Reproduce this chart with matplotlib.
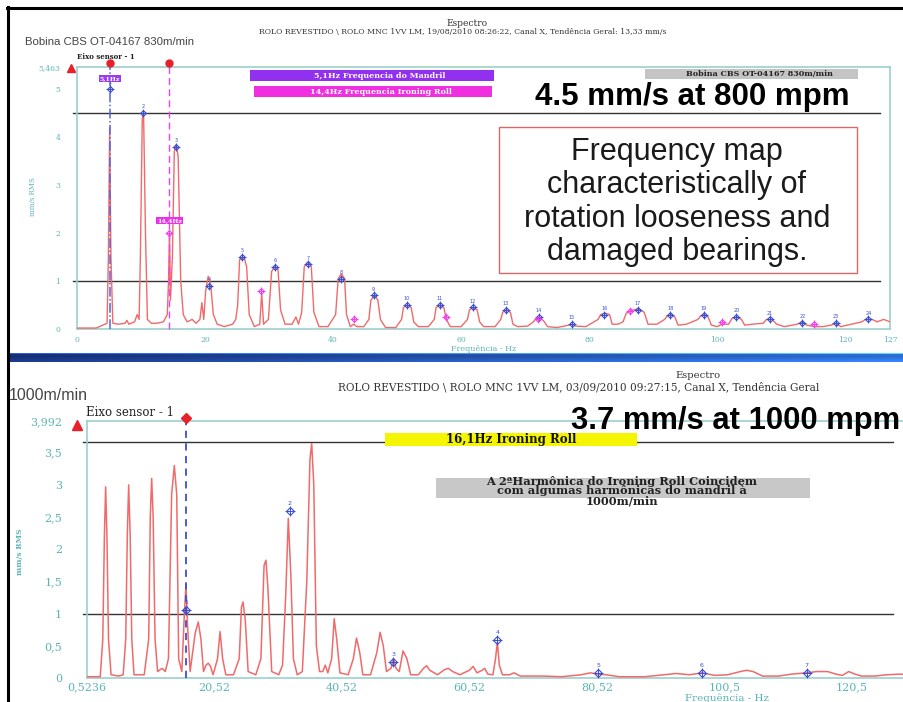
import matplotlib
matplotlib.use("Agg")
import matplotlib.pyplot as plt
import numpy as np
from matplotlib.lines import Line2D
from matplotlib.patches import Rectangle

# ---------------- data ----------------
# upper spectrum: 830 m/min
top_freq = [0, 3, 4, 4.7, 4.9, 5.1, 5.3, 5.6, 6.5, 7.5, 7.8, 8.1, 9.0, 9.4, 9.7, 9.9, 10.2, 10.4, 10.7, 11.0,
            11.6, 12.5, 13.5, 14.1, 14.3, 14.45, 14.6, 14.9, 15.2, 15.5, 15.8, 16.2, 16.6, 17.2, 18.0, 18.6,
            19.2, 19.5, 19.8, 20.1, 20.5, 20.9, 21.3, 21.9, 23.0, 24.3, 24.8, 25.1, 25.4, 26.1, 26.5, 26.9,
            27.7, 28.55, 28.85, 29.15, 29.9, 30.4, 30.9, 31.4, 31.8, 32.5, 33.6, 34.2, 34.6, 35.1, 35.5, 36.1,
            36.6, 37.0, 37.8, 39.2, 40.4, 40.8, 41.3, 41.8, 42.1, 42.7, 43.2, 43.7, 44.8, 45.6, 45.9, 46.5,
            47.0, 47.4, 48.2, 49.8, 50.7, 51.0, 51.6, 52.2, 52.6, 53.3, 54.9, 55.8, 56.1, 56.7, 57.3, 57.7,
            58.3, 60.0, 61.0, 61.3, 61.9, 62.5, 62.9, 63.5, 65.3, 66.2, 66.5, 67.1, 67.7, 68.1, 68.8, 70.4,
            71.3, 71.7, 72.5, 73.0, 73.5, 75.0, 76.8, 77.3, 77.9, 79.5, 81.4, 81.8, 82.5, 83.2, 83.6, 84.5,
            85.3, 85.8, 86.5, 87.6, 88.6, 89.2, 90.6, 91.8, 92.2, 92.8, 93.4, 93.9, 95.2, 97.0, 97.4, 98.0,
            98.6, 99.1, 100.0, 100.8, 101.8, 102.3, 103.1, 103.8, 104.3, 105.5, 107.2, 107.7, 108.6, 109.3,
            110.5, 112.5, 113.3, 114.0, 115.2, 116.5, 117.8, 118.5, 119.3, 121.0, 122.6, 123.2, 124.2,
            125.0, 126.0, 127.0]
top_amp = [0.02, 0.02, 0.08, 0.12, 1.5, 4.2, 1.5, 0.12, 0.1, 0.12, 0.18, 0.1, 0.15, 0.3, 0.2, 1.5, 4.4, 4.5, 2.0, 0.2,
           0.12, 0.12, 0.15, 0.3, 1.0, 2.0, 0.6, 1.5, 3.7, 3.85, 3.6, 1.0, 0.3, 0.15, 0.2, 0.12,
           0.2, 0.55, 0.2, 0.8, 1.1, 0.9, 0.3, 0.1, 0.05, 0.1, 0.2, 0.5, 1.45, 1.5, 1.3, 0.3,
           0.05, 0.1, 0.75, 0.1, 0.2, 1.2, 1.3, 1.25, 0.4, 0.1, 0.1, 0.25, 0.1, 0.35, 1.3, 1.4,
           1.3, 0.35, 0.05, 0.05, 0.3, 1.05, 1.15, 1.05, 0.3, 0.05, 0.1, 0.05, 0.05, 0.2, 0.6, 0.7,
           0.6, 0.2, 0.03, 0.03, 0.2, 0.45, 0.5, 0.45, 0.15, 0.05, 0.05, 0.2, 0.45, 0.5, 0.45, 0.2,
           0.05, 0.05, 0.2, 0.4, 0.45, 0.4, 0.15, 0.05, 0.05, 0.2, 0.35, 0.4, 0.35, 0.1, 0.05, 0.06,
           0.15, 0.22, 0.22, 0.15, 0.05, 0.03, 0.08, 0.1, 0.06, 0.05, 0.2, 0.3, 0.33, 0.3, 0.1, 0.1,
           0.15, 0.33, 0.38, 0.42, 0.35, 0.1, 0.1, 0.2, 0.27, 0.3, 0.25, 0.08, 0.1, 0.2, 0.27, 0.3,
           0.25, 0.08, 0.05, 0.1, 0.1, 0.22, 0.25, 0.2, 0.08, 0.1, 0.12, 0.2, 0.2, 0.1,
           0.05, 0.1, 0.15, 0.08, 0.05, 0.05, 0.08, 0.12, 0.05, 0.1, 0.15, 0.2, 0.2,
           0.15, 0.2, 0.15]
top_mandrel_freq = [5.1, 10.3, 15.45, 20.6, 25.75, 30.9, 36.05, 41.2, 46.35, 51.5, 56.65, 61.8,
                    67.0, 72.1, 77.3, 82.4, 87.6, 92.7, 97.9, 103.0, 108.2, 113.3, 118.5, 123.6]
top_mandrel_amp = [5.0, 4.5, 3.8, 0.9, 1.5, 1.3, 1.35, 1.05, 0.7, 0.5, 0.5, 0.45,
                   0.4, 0.25, 0.1, 0.3, 0.4, 0.3, 0.3, 0.25, 0.2, 0.12, 0.12, 0.2]
top_roll_freq = [14.4, 28.8, 43.2, 57.6, 72.0, 86.4, 100.8, 115.2]
top_roll_amp = [2.0, 0.8, 0.2, 0.25, 0.2, 0.38, 0.15, 0.1]
top_xticks = [0, 20, 40, 60, 80, 100, 120, 127]
top_yticks = [0, 1, 2, 3, 4, 5, 5.463]
top_yticklabels = ["0", "1", "2", "3", "4", "5", "5,463"]
top_limits = [4.5, 1.0]
top_cursor_mandrel = 5.1
top_cursor_roll = 14.4

# lower spectrum: 1000 m/min
bot_freq = [0.5236, 2.6, 3.0, 3.25, 3.45, 3.65, 3.9, 4.3, 5.5, 6.2, 6.6, 6.85, 7.06, 7.3, 7.55, 7.9, 9.5,
            10.2, 10.45, 10.67, 10.9, 11.2, 11.6, 12.3, 12.8, 13.3, 13.8, 14.22, 14.6, 14.9, 15.4, 15.8,
            16.05, 16.3, 16.7, 17.5, 17.98, 18.4, 18.8, 19.2, 19.55, 19.9, 20.3, 21.0, 21.4, 21.8, 22.3,
            23.5, 24.4, 24.75, 25.0, 25.35, 25.8, 27.0, 27.8, 28.3, 28.6, 28.9, 29.5, 30.6, 31.2, 31.7,
            32.1, 32.5, 32.9, 33.5, 34.3, 35.0, 35.5, 35.77, 36.1, 36.5, 37.0, 37.5, 37.9, 38.3, 38.9,
            39.3, 39.7, 40.2, 41.5, 42.3, 42.8, 43.3, 43.8, 45.0, 46.0, 46.5, 47.0, 47.5, 48.2, 48.6,
            49.0, 49.5, 50.1, 50.7, 51.3, 52.5, 53.3, 53.8, 54.3, 55.5, 56.6, 57.2, 57.9, 59.0, 60.5,
            61.1, 61.7, 62.5, 62.9, 63.4, 64.2, 64.6, 64.9, 65.2, 65.7, 66.8, 67.5, 68.5, 72.0, 75.0,
            78.0, 79.5, 80.7, 82.0, 84.0, 88.0, 91.0, 93.0, 95.0, 97.0, 99.0, 101.0, 103.0, 104.0,
            105.0, 106.5, 109.0, 111.0, 113.4, 115.0, 116.7, 118.0, 119.0, 120.0, 121.0, 122.0,
            124.0, 126.0, 128.0, 130.0]
bot_amp = [0.02, 0.02, 0.6, 2.2, 2.97, 2.2, 0.6, 0.05, 0.03, 0.05, 0.6, 2.25, 3.0, 2.2, 0.6, 0.05, 0.05,
           0.6, 2.5, 3.1, 2.5, 0.6, 0.1, 0.15, 0.1, 0.3, 2.85, 3.3, 2.85, 0.3, 0.1, 1.0,
           1.45, 0.8, 0.1, 0.7, 0.87, 0.6, 0.1, 0.2, 0.23, 0.18, 0.05, 0.3, 0.72, 0.3, 0.05,
           0.05, 0.3, 1.1, 1.18, 0.9, 0.1, 0.05, 0.3, 1.75, 1.83, 1.4, 0.1, 0.05, 0.2, 1.3,
           2.48, 1.6, 0.3, 0.05, 0.1, 1.5, 3.4, 3.64, 3.0, 0.5, 0.1, 0.1, 0.2, 0.08, 0.3,
           0.92, 0.6, 0.08, 0.05, 0.3, 0.62, 0.4, 0.05, 0.05, 0.4, 0.71, 0.5, 0.1, 0.15, 0.3,
           0.15, 0.1, 0.42, 0.3, 0.05, 0.05, 0.15, 0.19, 0.12, 0.05, 0.13, 0.15, 0.1, 0.05, 0.12,
           0.18, 0.08, 0.12, 0.15, 0.06, 0.05, 0.3, 0.56, 0.2, 0.05, 0.05, 0.08, 0.03, 0.03, 0.02,
           0.05, 0.08, 0.06, 0.05, 0.02, 0.02, 0.05, 0.07, 0.05, 0.08, 0.04, 0.05, 0.1, 0.12,
           0.1, 0.03, 0.03, 0.06, 0.08, 0.1, 0.1, 0.06, 0.04, 0.1, 0.06, 0.03,
           0.03, 0.05, 0.06, 0.05]
bot_roll_freq = [16.05, 32.3, 48.6, 64.9, 80.7, 97.0, 113.4, 129.5]
bot_roll_amp = [1.05, 2.6, 0.25, 0.59, 0.07, 0.07, 0.08, 0.08]
bot_xticks = [0.5236, 20.52, 40.52, 60.52, 80.52, 100.5, 120.5]
bot_xticklabels = ["0,5236", "20,52", "40,52", "60,52", "80,52", "100,5", "120,5"]
bot_yticks = [0, 0.5, 1, 1.5, 2, 2.5, 3, 3.5, 3.992]
bot_yticklabels = ["0", "0,5", "1", "1,5", "2", "2,5", "3", "3,5", "3,992"]
bot_limits = [3.66, 1.0]
bot_cursor_roll = 16.05

# ---------------- figure ----------------
W, H = 904, 702
fig = plt.figure(figsize=(W / 100, H / 100), dpi=100)
fig.patch.set_facecolor("white")


def fx(p):
    return p / W


def fy(p):
    return 1 - p / H


TEAL = "#5bb5b5"
SPINE = "#9ccfcf"
TRACE = "#f06a6a"
BLUE = "#3a4fd0"
MAG = "#f040f0"
SERIF = ["DejaVu Serif"]
SANS = ["Liberation Sans", "DejaVu Sans"]


def style_axes(ax, fs, pad_y, pad_x):
    for s in ax.spines.values():
        s.set_color(SPINE)
        s.set_linewidth(1.2)
    ax.tick_params(length=0, colors=TEAL, labelsize=fs)
    ax.tick_params(axis="y", pad=pad_y)
    ax.tick_params(axis="x", pad=pad_x)
    for lab in ax.get_xticklabels() + ax.get_yticklabels():
        lab.set_fontfamily(SERIF)


def harmonic_markers(ax, f, a, color, ms, fs, n_numbers):
    ax.plot(f, a, linestyle="none", marker="D", markersize=ms, markerfacecolor="none",
            markeredgecolor=color, markeredgewidth=0.8, zorder=5, clip_on=False)
    ax.plot(f, a, linestyle="none", marker="+", markersize=ms * 1.8, color=color,
            markeredgewidth=0.7, zorder=5, clip_on=False)
    for i, (xx, yy) in enumerate(zip(f[:n_numbers], a[:n_numbers])):
        ax.annotate(str(i + 1), (xx, yy), xytext=(0, ms * 0.9), textcoords="offset points",
                    ha="center", va="bottom", fontsize=fs, color=color, zorder=6)


# ===== upper panel =====
ax1 = fig.add_axes([fx(77), fy(329), (890 - 77) / W, (329 - 67) / H])
ax1.plot(top_freq, top_amp, color=TRACE, lw=1.0, zorder=3)
ax1.set_xlim(0, 127)
ax1.set_ylim(0, 5.463)
ax1.set_xticks(top_xticks)
ax1.set_xticklabels([str(t) for t in top_xticks])
ax1.set_yticks(top_yticks)
ax1.set_yticklabels(top_yticklabels)
style_axes(ax1, 5.5, 12, 5)
for lv in top_limits:
    ax1.axhline(lv, xmin=-0.005, xmax=0.988, color="#333333", lw=1.0, clip_on=False, zorder=2)
xt1 = ax1.get_xaxis_transform()
ax1.plot([top_cursor_mandrel] * 2, [0, 1.016], color="#5566dd", lw=1.1, ls="-.", transform=xt1,
         clip_on=False, zorder=4)
ax1.plot([top_cursor_roll] * 2, [0, 1.016], color=MAG, lw=1.0, ls=(0, (5, 3)), transform=xt1,
         clip_on=False, zorder=4)
ax1.plot([top_cursor_mandrel, top_cursor_roll], [1.016, 1.016], "o", color="#e8202a", ms=5,
         transform=xt1, clip_on=False, zorder=6)
harmonic_markers(ax1, top_mandrel_freq, top_mandrel_amp, BLUE, 3, 3.5, len(top_mandrel_freq))
harmonic_markers(ax1, top_roll_freq, top_roll_amp, MAG, 3, 3.5, 0)
ax1.annotate("5,1Hz", (top_cursor_mandrel, top_mandrel_amp[0]), xytext=(0, 6), textcoords="offset points",
             ha="center", va="bottom", fontsize=4.5, color="white", fontweight="bold", family=SERIF,
             bbox=dict(boxstyle="square,pad=0.15", fc="#9a3cf0", ec="none"), zorder=7)
ax1.annotate("14,4Hz", (top_cursor_roll, top_roll_amp[0]), xytext=(0, 7), textcoords="offset points",
             ha="center", va="bottom", fontsize=4.5, color="white", fontweight="bold", family=SERIF,
             bbox=dict(boxstyle="square,pad=0.15", fc="#ee30ee", ec="none"), zorder=7)

fig.text(fx(33), fy(197), "mm/s RMS", rotation=90, ha="center", va="center", fontsize=5,
         color=TEAL, family=SERIF)
fig.text(fx(484), fy(349), "Frequência - Hz", ha="center", va="center", fontsize=5.8,
         color=TEAL, family=SERIF)
fig.text(fx(467), fy(24), "Espectro", ha="center", va="center", fontsize=6.5, color="#333333",
         family=SERIF)
fig.text(fx(463), fy(32), "ROLO REVESTIDO \\ ROLO MNC 1VV LM, 19/08/2010 08:26:22, Canal X, "
         "Tendência Geral: 13,33 mm/s", ha="center", va="center", fontsize=5.6, color="#333333",
         family=SERIF)
fig.text(fx(25), fy(42), "Bobina CBS OT-04167 830m/min", ha="left", va="center", fontsize=8.2,
         color="#444444", family=SANS)
fig.text(fx(77), fy(57), "Eixo sensor - 1", ha="left", va="center", fontsize=5, color="#222222",
         family=SERIF, fontweight="bold")
fig.add_artist(Line2D([fx(71)], [fy(68)], marker="^", color="#e8202a", markersize=6, linestyle="none"))

# coloured label boxes of the upper panel
for (x0, y0, x1, y1, fc, tc, txt) in [
        (250, 70, 494, 81, "#9230f0", "white", "5,1Hz Frequencia do Mandril"),
        (254, 86, 492, 97, "#f030e0", "white", "14,4Hz Frequencia Ironing Roll"),
        (645, 69, 858, 79, "#c4c4c4", "#222222", "Bobina CBS OT-04167 830m/min")]:
    fig.add_artist(Rectangle((fx(x0), fy(y1)), (x1 - x0) / W, (y1 - y0) / H, transform=fig.transFigure,
                             fc=fc, ec="none", zorder=5))
    fig.text(fx((x0 + x1) / 2 + 8), fy((y0 + y1) / 2), txt, ha="center", va="center", fontsize=5.8,
             color=tc, fontweight="bold", family=SERIF, zorder=6)

fig.text(fx(692), fy(97), "4.5 mm/s at 800 mpm", ha="center", va="center", fontsize=22.5,
         fontweight="bold", family=SANS, color="black", zorder=7)
fig.add_artist(Rectangle((fx(499), fy(273)), (857 - 499) / W, (273 - 127) / H, transform=fig.transFigure,
                         fc="white", ec="#e06666", lw=1.0, zorder=6))
fig.text(fx(677), fy(202), "Frequency map\ncharacteristically of\nrotation looseness and\ndamaged bearings.",
         ha="center", va="center", fontsize=22, linespacing=1.14, family=SANS, color="#1a1a1a", zorder=7)

# ===== lower panel =====
ax2 = fig.add_axes([fx(87), fy(678), 825 / W, (678 - 421) / H])
ax2.plot(bot_freq, bot_amp, color=TRACE, lw=1.1, zorder=3)
ax2.set_xlim(0.5236, 0.5236 + 825 / 6.375)
ax2.set_ylim(0, 3.992)
ax2.set_xticks(bot_xticks)
ax2.set_xticklabels(bot_xticklabels)
ax2.set_yticks(bot_yticks)
ax2.set_yticklabels(bot_yticklabels)
style_axes(ax2, 8, 18, 3)
for lv in bot_limits:
    ax2.axhline(lv, xmin=-0.005, xmax=0.977, color="#333333", lw=1.0, clip_on=False, zorder=2)
xt2 = ax2.get_xaxis_transform()
ax2.plot([bot_cursor_roll] * 2, [0, 1.012], color=BLUE, lw=1.3, ls=(0, (4, 3)), transform=xt2,
         clip_on=False, zorder=4)
ax2.plot([bot_cursor_roll], [1.012], "D", color="#e8202a", ms=5, transform=xt2, clip_on=False, zorder=6)
harmonic_markers(ax2, bot_roll_freq, bot_roll_amp, BLUE, 4, 4.5, len(bot_roll_freq) - 1)

fig.text(fx(20), fy(552), "mm/s RMS", rotation=90, ha="center", va="center", fontsize=5.5,
         color=TEAL, family=SERIF, fontweight="bold")
fig.text(fx(727), fy(698), "Frequência - Hz", ha="center", va="center", fontsize=7.5,
         color=TEAL, family=SERIF)
fig.text(fx(698), fy(375), "Espectro", ha="center", va="center", fontsize=7.2, color="#333333",
         family=SERIF)
fig.text(fx(338), fy(387), "ROLO REVESTIDO \\ ROLO MNC 1VV LM, 03/09/2010 09:27:15, Canal X, "
         "Tendência Geral", ha="left", va="center", fontsize=7.6, color="#333333",
         family=SERIF)
fig.text(fx(9), fy(395), "1000m/min", ha="left", va="center", fontsize=11.5, color="#444444", family=SANS)
fig.text(fx(86), fy(413), "Eixo sensor - 1", ha="left", va="center", fontsize=8.5, color="#222222",
         family=SERIF)
fig.add_artist(Line2D([fx(77)], [fy(425)], marker="^", color="#e8202a", markersize=7, linestyle="none"))

fig.add_artist(Rectangle((fx(385), fy(446)), (637 - 385) / W, 13 / H, transform=fig.transFigure,
                         fc="#f5f500", ec="none", zorder=5))
fig.text(fx(511), fy(440), "16,1Hz Ironing Roll", ha="center", va="center", fontsize=8.5,
         fontweight="bold", family=SERIF, color="#111111", zorder=6)
fig.add_artist(Rectangle((fx(436), fy(498)), (810 - 436) / W, 20 / H, transform=fig.transFigure,
                         fc="#c8c8c8", ec="none", zorder=5))
fig.text(fx(622), fy(491), "A 2ªHarmônica do Ironing Roll Coincidem\ncom algumas harmônicas do mandril à\n"
         "1000m/min", ha="center", va="center", fontsize=8.2, linespacing=0.85, fontweight="bold",
         family=SERIF, color="#222222", zorder=6)
fig.text(fx(736), fy(421), "3.7 mm/s at 1000 mpm", ha="center", va="center", fontsize=22.3,
         fontweight="bold", family=SANS, color="black", zorder=7)

# ===== screenshot frame =====
fig.add_artist(Line2D([fx(7), fx(904)], [fy(8), fy(8)], color="black", lw=2.2))
fig.add_artist(Line2D([fx(8), fx(8)], [fy(7), fy(702)], color="black", lw=2.2))
axb = fig.add_axes([fx(10), fy(362), (904 - 10) / W, 9 / H])
cols = np.linspace(0, 1, 200)
c0 = np.array([0.09, 0.19, 0.48])
c1 = np.array([0.18, 0.45, 0.86])
row = c0[None, :] * (1 - cols[:, None]) + c1[None, :] * cols[:, None]
shade = np.array([1.9, 1.0, 0.95, 0.95, 1.0, 1.05, 1.1, 1.15, 1.2])
img = np.clip(row[None, :, :] * shade[:, None, None], 0, 1)
axb.imshow(img, aspect="auto", interpolation="bilinear")
axb.set_axis_off()

fig.savefig("out.png", dpi=100, facecolor="white")
